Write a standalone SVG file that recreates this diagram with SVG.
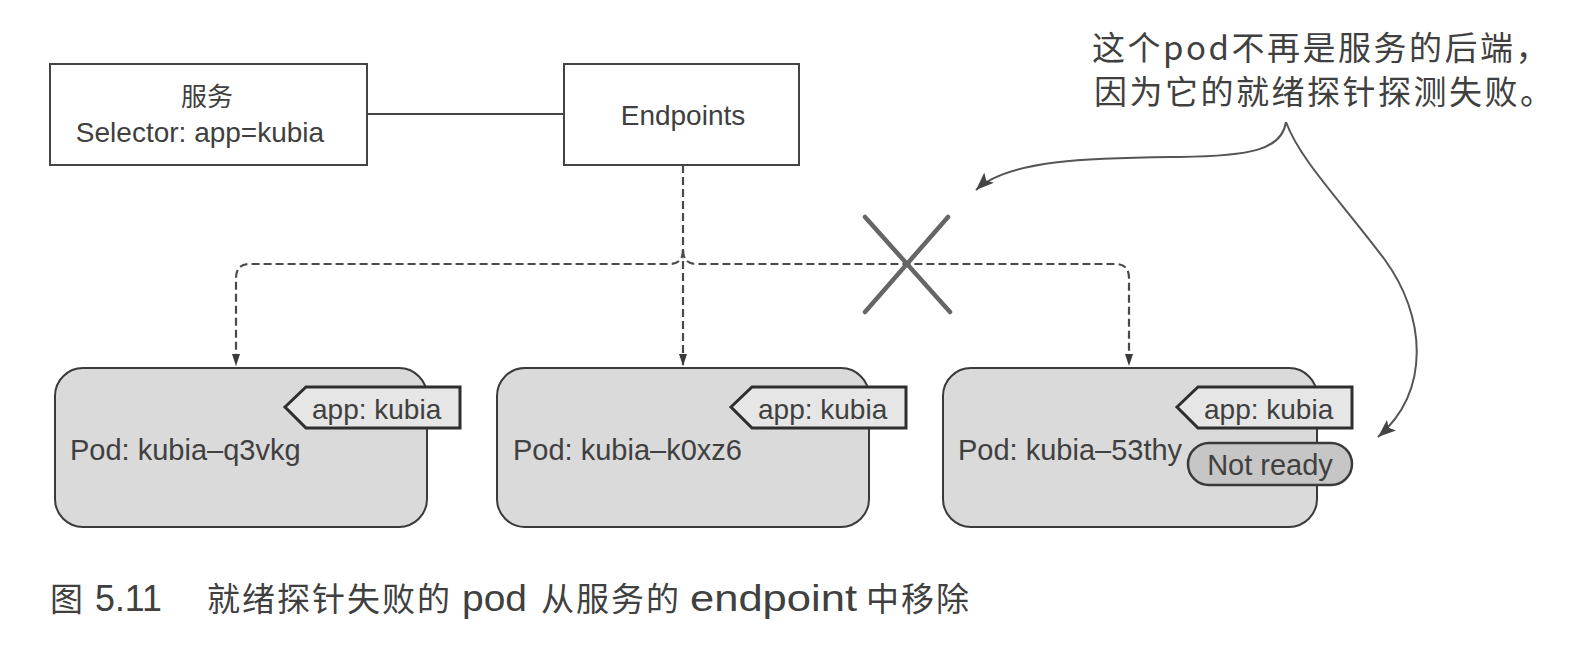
<svg xmlns="http://www.w3.org/2000/svg" width="1585" height="655" viewBox="0 0 1585 655">
<defs>
<style>
.box{fill:#fff;stroke:#444;stroke-width:2}
.pod{fill:#dadada;stroke:#3a3a3a;stroke-width:2}
.tag{fill:#e6e6e6;stroke:#2e2e2e;stroke-width:3;stroke-linejoin:miter}
.pill{fill:#c6c6c6;stroke:#3a3a3a;stroke-width:2.5}
.t{font-family:"Liberation Sans","Noto Sans CJK SC",Arial,sans-serif;fill:#404040}
.cjk{font-family:"Noto Sans CJK SC","Liberation Sans",sans-serif;fill:#404040}
.lat{font-family:"Liberation Sans","Noto Sans CJK SC",sans-serif}
.dash{fill:none;stroke:#4a4a4a;stroke-width:2.2;stroke-dasharray:8 4}
.curve{fill:none;stroke:#555;stroke-width:2}
</style>
<marker id="ah" viewBox="0 0 12 8" refX="12" refY="4" markerWidth="12" markerHeight="8" markerUnits="userSpaceOnUse" orient="auto">
<path d="M0,0 L12,4 L0,8 z" fill="#3a3a3a"/>
</marker>
<marker id="ah2" viewBox="0 0 18 14" refX="18" refY="7" markerWidth="18" markerHeight="14" markerUnits="userSpaceOnUse" orient="auto">
<path d="M0,0 L18,7 L0,14 L4,7 z" fill="#444"/>
</marker>
</defs>
<rect width="1585" height="655" fill="#fff"/>

<g id="connectors">
<line x1="367" y1="114" x2="564" y2="114" stroke="#444" stroke-width="2"/>
<path class="dash" d="M683,165 L683,366" marker-end="url(#ah)"/>
<path class="dash" d="M683,250 Q683,264 669,264 L250,264 Q236,264 236,278 L236,366" marker-end="url(#ah)"/>
<path class="dash" d="M683,250 Q683,264 697,264 L1115,264 Q1129,264 1129,278 L1129,366" marker-end="url(#ah)"/>
<g id="cross" stroke="#666" stroke-width="4.5" stroke-linecap="round">
<line x1="865" y1="217" x2="950" y2="312"/>
<line x1="948" y1="217" x2="865" y2="312"/>
</g>
<path class="curve" d="M1286,122 C1282,150 1250,156 1180,157 C1100,158 1010,158 976,190" marker-end="url(#ah2)"/>
<path class="curve" d="M1286,122 C1300,160 1340,200 1385,260 C1425,315 1432,390 1378,437" marker-end="url(#ah2)"/>
</g>

<g id="service">
<rect class="box" x="50" y="64" width="317" height="101"/>
<text class="cjk" x="207" y="106" font-size="26" text-anchor="middle">服务</text>
<text class="t" x="200" y="142" font-size="28" text-anchor="middle">Selector: app=kubia</text>
</g>

<g id="endpoints">
<rect class="box" x="564" y="64" width="235" height="101"/>
<text class="t" x="683" y="125" font-size="28" text-anchor="middle">Endpoints</text>
</g>

<g id="pod1">
<rect class="pod" x="55" y="368" width="372" height="159" rx="28"/>
<polygon class="tag" points="285,407 306,387 460,387 460,428 306,428"/>
<text class="t" x="312" y="419" font-size="28">app: kubia</text>
<text class="t" x="70" y="460" font-size="29">Pod: kubia–q3vkg</text>
</g>

<g id="pod2">
<rect class="pod" x="497" y="368" width="372" height="159" rx="28"/>
<polygon class="tag" points="731,407 752,387 906,387 906,428 752,428"/>
<text class="t" x="758" y="419" font-size="28">app: kubia</text>
<text class="t" x="513" y="460" font-size="29">Pod: kubia–k0xz6</text>
</g>

<g id="pod3">
<rect class="pod" x="943" y="368" width="374" height="159" rx="28"/>
<polygon class="tag" points="1177,407 1198,387 1352,387 1352,428 1198,428"/>
<text class="t" x="1204" y="419" font-size="28">app: kubia</text>
<text class="t" x="958" y="460" font-size="29">Pod: kubia–53thy</text>
<rect class="pill" x="1188" y="443" width="164" height="42" rx="21"/>
<text class="t" x="1270" y="475" font-size="29" text-anchor="middle">Not ready</text>
</g>

<g id="annotation">
<text class="cjk" x="1092" y="60" font-size="33" letter-spacing="2.5">这个pod不再是服务的后端，</text>
<text class="cjk" x="1094" y="104" font-size="33" letter-spacing="2.5">因为它的就绪探针探测失败。</text>
</g>

<g id="caption">
<text class="cjk" y="611" font-size="33"><tspan x="50">图</tspan><tspan class="lat" x="95" font-size="36" textLength="67" lengthAdjust="spacingAndGlyphs">5.11</tspan><tspan x="207" letter-spacing="2">就绪探针失败的</tspan><tspan class="lat" x="462" font-size="37" textLength="65" lengthAdjust="spacingAndGlyphs">pod</tspan><tspan x="541" letter-spacing="2">从服务的</tspan><tspan class="lat" x="690" font-size="37" textLength="167" lengthAdjust="spacingAndGlyphs">endpoint</tspan><tspan x="866" letter-spacing="2">中移除</tspan></text>
</g>
</svg>
